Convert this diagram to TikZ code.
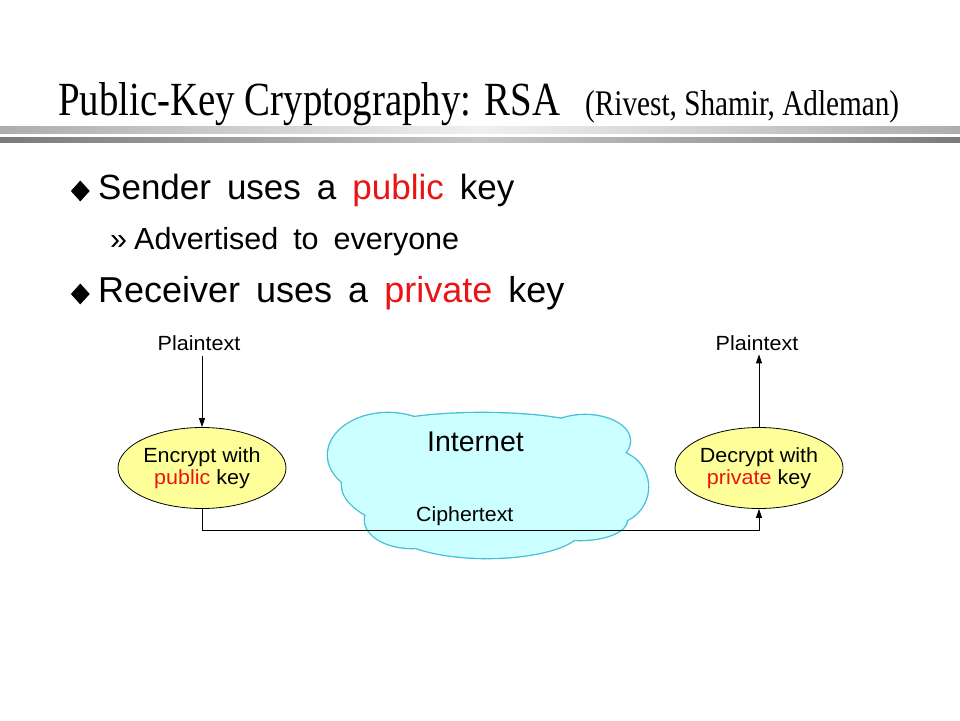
\documentclass[tikz,border=0pt]{standalone}
\usepackage{fontspec}
\setmainfont{Liberation Sans}
\newfontfamily\titleserif{Liberation Serif}
\usetikzlibrary{shapes.geometric,arrows.meta,calc}
\definecolor{keyred}{RGB}{235,20,20}
\definecolor{ovalfill}{RGB}{255,255,153}
\definecolor{cloudfill}{RGB}{204,255,255}
\definecolor{cloudedge}{RGB}{70,190,215}
\newcommand{\sx}[2]{\scalebox{#1}[1]{#2}}
\begin{document}
\begin{tikzpicture}[x=1pt,y=-1pt,
  bigtext/.style={anchor=base west,inner sep=0pt,font=\fontsize{35}{40}\selectfont},
  subtext/.style={anchor=base west,inner sep=0pt,font=\fontsize{30.5}{36}\selectfont},
  smalltext/.style={inner sep=0pt,font=\fontsize{20.5}{22}\selectfont},
  bulletmark/.style={diamond,fill=black,inner sep=0pt,minimum width=19pt,minimum height=21pt},
  oval/.style={ellipse,draw=black,line width=0.8pt,fill=ovalfill,minimum width=168pt,minimum height=81pt,inner sep=0pt,align=center,font=\fontsize{20.5}{22}\selectfont},
  arr/.style={line width=0.9pt,-{Triangle[length=9pt,width=6pt]}},
  cloudpart/.style={draw=cloudedge,line width=2.6pt,fill=cloudfill},
  cloudfillonly/.style={fill=cloudfill}
]
\useasboundingbox[fill=white] (0,0) rectangle (960,720);

% title
\node[anchor=base west,inner sep=0pt,font=\titleserif\fontsize{40}{44}\selectfont] (title) at (58,115)
  {\resizebox{502pt}{33pt}{Public-Key Cryptography: RSA}};
\node[anchor=base west,inner sep=0pt,font=\titleserif\fontsize{30}{34}\selectfont] (subtitle) at (585,115)
  {\resizebox{314pt}{25pt}{(Rivest, Shamir, Adleman)}};

% rules under title
\shade[left color=black!32,right color=black!32,middle color=black!6] (0,126) rectangle (960,133);
\shade[left color=black!52,right color=black!52,middle color=black!22] (0,137.5) rectangle (960,142);

% bullets
\node[bulletmark] (d1) at (80.3,191) {};
\node[bigtext] (b1) at (98,199.5) {\spaceskip=16pt\relax Sender uses a \textcolor{keyred}{public} key};
\node[subtext] (r1) at (110,249.5) {»};
\node[subtext] (b2) at (134,249.5) {\spaceskip=15pt\relax Advertised to everyone};
\node[bigtext,font=\fontsize{36}{40}\selectfont] (b3) at (98,302.5) {\spaceskip=16pt\relax Receiver uses a \textcolor{keyred}{private} key};
\node[bulletmark] (d2) at (80.3,294) {};

% cloud
\foreach \cx/\cy/\rx/\ry in {490/485/148/55, 482/433/112/20, 388/455/60/42,
  585/441/45/26, 610/487/38/37, 487/528/95/30, 412/520/47/28, 580/520/47/20}
  \path[cloudpart] (\cx,\cy) ellipse [x radius=\rx, y radius=\ry];
\foreach \cx/\cy/\rx/\ry in {490/485/148/55, 482/433/112/20, 388/455/60/42,
  585/441/45/26, 610/487/38/37, 487/528/95/30, 412/520/47/28, 580/520/47/20}
  \path[cloudfillonly] (\cx,\cy) ellipse [x radius=\rx, y radius=\ry];
\node[anchor=base west,inner sep=0pt,font=\fontsize{28.5}{32}\selectfont] (net) at (427,451.7) {Internet};
\node[smalltext,anchor=base west] (ct) at (416,521.7) {\sx{1.04}{Ciphertext}};

% left side
\node[smalltext,anchor=base] (ptL) at (199,350) {\sx{1.05}{Plaintext}};
\node[oval] (enc) at (202,468) {\sx{1.05}{Encrypt with}\\\sx{1.05}{\textcolor{keyred}{public} key}};
% right side
\node[smalltext,anchor=base] (ptR) at (757,350) {\sx{1.05}{Plaintext}};
\node[oval] (dec) at (759,468) {\sx{1.05}{Decrypt with}\\\sx{1.05}{\textcolor{keyred}{private} key}};

% connectors
\draw[arr] (enc.north |- ptL.south) ++(0,6) -- (enc.north);
\draw[arr] (dec.north) -- ($(dec.north |- ptR.south)+(0,4)$);
\coordinate (bus) at (0,530);
\draw[arr] (enc.south) -- (enc.south |- bus) -- (dec.south |- bus) -- (dec.south);
\end{tikzpicture}
\end{document}
